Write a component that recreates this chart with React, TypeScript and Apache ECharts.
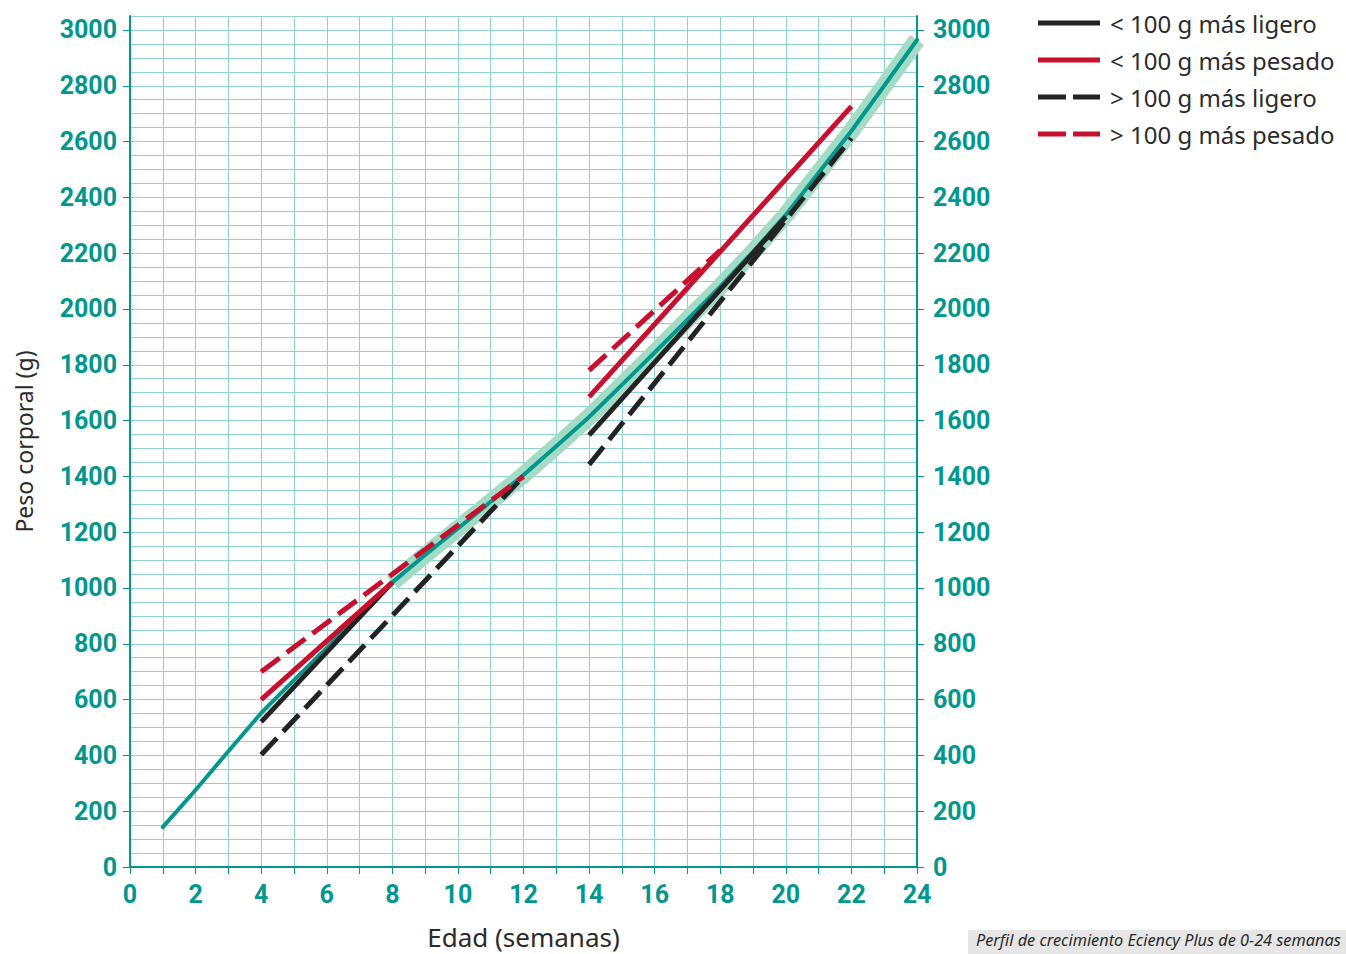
import React, { useEffect, useRef } from 'react';
import * as echarts from 'echarts';

// ---- data ----
const growthWeeks = [1, 2, 3, 4, 5, 6, 7, 8, 9, 10, 11, 12, 13, 14, 15, 16, 17, 18, 19, 20, 21, 22, 23, 24];
const growthWeight = [143, 276, 415, 552, 670, 785, 905, 1020, 1118, 1213, 1309, 1405, 1508, 1613, 1728, 1844, 1962, 2080, 2205, 2337, 2488, 2638, 2800, 2964];
const bandStartWeek = 8;

const lessLighterA = [[4, 520], [8, 1020]];
const lessLighterB = [[14, 1548], [20, 2330]];
const lessHeavierA = [[4, 600], [8, 1020]];
const lessHeavierB = [[14, 1685], [22, 2726]];
const moreLighterA = [[4, 402], [12, 1400]];
const moreLighterB = [[14, 1442], [22, 2612]];
const moreHeavierA = [[4, 700], [12, 1400]];
const moreHeavierB = [[14, 1780], [18, 2210]];

const xLabelValues = [0, 2, 4, 6, 8, 10, 12, 14, 16, 18, 20, 22, 24];
const yLabelValues = [0, 200, 400, 600, 800, 1000, 1200, 1400, 1600, 1800, 2000, 2200, 2400, 2600, 2800, 3000];

const legendNames = ['< 100 g más ligero', '< 100 g más pesado', '> 100 g más ligero', '> 100 g más pesado'];
const xAxisTitle = 'Edad (semanas)';
const yAxisTitle = 'Peso corporal (g)';
const captionText = 'Perfil de crecimiento Eciency Plus de 0-24 semanas';

// ---- style ----
const TEAL = '#00978f';
const GRID_LINE = '#8fd1cd';
const BAND = '#a3dbc5';
const BLACK = '#232323';
const RED = '#c8102e';
const DASH = [23, 9];
const SOLID_ICON = 'path://M0,0H62V5H0Z';
const DASHED_ICON = 'path://M0,0H28V5H0Z M35,0H62V5H35Z';

export default function App() {
  const ref = useRef<HTMLDivElement>(null);

  useEffect(() => {
    if (!ref.current) return;
    const chart = echarts.init(ref.current, undefined, { renderer: 'svg' });

    const growthData = growthWeeks.map((w, i) => [w, growthWeight[i]]);
    const bandData = growthData.filter((p) => p[0] >= bandStartWeek);

    const labelStyle = {
      color: TEAL,
      fontFamily: 'Roboto',
      fontWeight: 'bold' as const,
      fontSize: 25,
      formatter: (v: number) => String(v),
    };

    const gridRect = {
      left: 130,
      right: 429,
      top: 16,
      bottom: 87,
      containLabel: false,
      outerBoundsMode: 'none',
    };

    const seg = (name: string, data: number[][], color: string, dashed: boolean) => ({
      type: 'line',
      name,
      data,
      xAxisIndex: 0,
      yAxisIndex: 0,
      symbol: 'none',
      z: 4,
      lineStyle: { color, width: 5, type: dashed ? DASH : 'solid', cap: 'butt' },
      itemStyle: { color },
      emphasis: { disabled: true },
    });

    const option = {
      animation: false,
      grid: [gridRect, { ...gridRect }],
      legend: {
        orient: 'vertical',
        left: 1038,
        top: 8,
        padding: 0,
        itemWidth: 62,
        itemHeight: 5,
        itemGap: 7,
        selectedMode: false,
        textStyle: { fontFamily: 'Noto Sans', fontSize: 24, lineHeight: 30, color: '#2b2b2b', padding: [0, 0, 0, 5] },
        data: [
          { name: legendNames[0], icon: SOLID_ICON },
          { name: legendNames[1], icon: SOLID_ICON },
          { name: legendNames[2], icon: DASHED_ICON },
          { name: legendNames[3], icon: DASHED_ICON },
        ],
      },
      xAxis: [
        {
          type: 'value',
          gridIndex: 0,
          min: 0,
          max: 24,
          interval: 1,
          name: xAxisTitle,
          nameLocation: 'middle',
          nameGap: 57,
          nameTextStyle: { fontFamily: 'Noto Sans', fontSize: 26, color: '#2b2b2b' },
          axisLine: { show: true, lineStyle: { color: TEAL, width: 2 } },
          axisTick: { show: true, length: 7, lineStyle: { color: TEAL, width: 1 } },
          axisLabel: { ...labelStyle, margin: 15, customValues: xLabelValues },
          splitLine: { show: false },
        },
        {
          type: 'value',
          gridIndex: 1,
          min: 0,
          max: 24,
          interval: 1,
          axisLine: { show: false },
          axisTick: { show: false },
          axisLabel: { show: false },
          splitLine: { show: true, lineStyle: { color: GRID_LINE, width: 1 } },
        },
      ],
      yAxis: [
        {
          type: 'value',
          gridIndex: 0,
          position: 'left',
          min: 0,
          max: 3050,
          interval: 50,
          name: yAxisTitle,
          nameLocation: 'middle',
          nameGap: 95,
          nameTextStyle: { fontFamily: 'Noto Sans', fontSize: 23, color: '#2b2b2b' },
          axisLine: { show: true, lineStyle: { color: TEAL, width: 2 } },
          axisTick: { show: true, length: 7, customValues: yLabelValues, lineStyle: { color: TEAL, width: 1 } },
          axisLabel: { ...labelStyle, margin: 13, padding: [5, 0, 0, 0], customValues: yLabelValues },
          splitLine: { show: false },
        },
        {
          type: 'value',
          gridIndex: 0,
          position: 'right',
          min: 0,
          max: 3050,
          interval: 50,
          axisLine: { show: true, lineStyle: { color: TEAL, width: 2 } },
          axisTick: { show: true, length: 7, customValues: yLabelValues, lineStyle: { color: TEAL, width: 1 } },
          axisLabel: { ...labelStyle, margin: 16, padding: [3, 0, 0, 0], customValues: yLabelValues },
          splitLine: { show: false },
        },
        {
          type: 'value',
          gridIndex: 1,
          min: 0,
          max: 3050,
          interval: 50,
          axisLine: { show: false },
          axisTick: { show: false },
          axisLabel: { show: false },
          splitLine: { show: true, lineStyle: { color: GRID_LINE, width: 1 } },
        },
      ],
      series: [
        {
          type: 'line',
          name: 'band',
          data: bandData,
          xAxisIndex: 0,
          yAxisIndex: 0,
          symbol: 'none',
          z: 1,
          silent: true,
          lineStyle: { color: BAND, width: 17, cap: 'butt', join: 'round' },
        },
        {
          type: 'line',
          name: 'growth',
          data: growthData,
          xAxisIndex: 0,
          yAxisIndex: 0,
          symbol: 'none',
          z: 2,
          silent: true,
          lineStyle: { color: TEAL, width: 4, cap: 'round', join: 'round' },
        },
        seg(legendNames[0], lessLighterA, BLACK, false),
        seg(legendNames[0], lessLighterB, BLACK, false),
        seg(legendNames[1], lessHeavierA, RED, false),
        seg(legendNames[1], lessHeavierB, RED, false),
        seg(legendNames[2], moreLighterA, BLACK, true),
        seg(legendNames[2], moreLighterB, BLACK, true),
        seg(legendNames[3], moreHeavierA, RED, true),
        seg(legendNames[3], moreHeavierB, RED, true),
      ],
      graphic: [
        {
          type: 'rect',
          left: 968,
          top: 930,
          shape: { width: 378, height: 24 },
          style: { fill: '#e6e6e6' },
        },
        {
          type: 'text',
          left: 976,
          top: 932,
          style: {
            text: captionText,
            fontFamily: 'Noto Sans',
            fontStyle: 'italic',
            fontSize: 16.3,
            fill: '#2b2b2b',
          },
        },
      ],
    };

    chart.setOption(option as any);
    return () => chart.dispose();
  }, []);

  return (
    <div
      ref={ref}
      style={{ position: 'absolute', left: 0, top: 0, width: 1346, height: 954 }}
    />
  );
}
